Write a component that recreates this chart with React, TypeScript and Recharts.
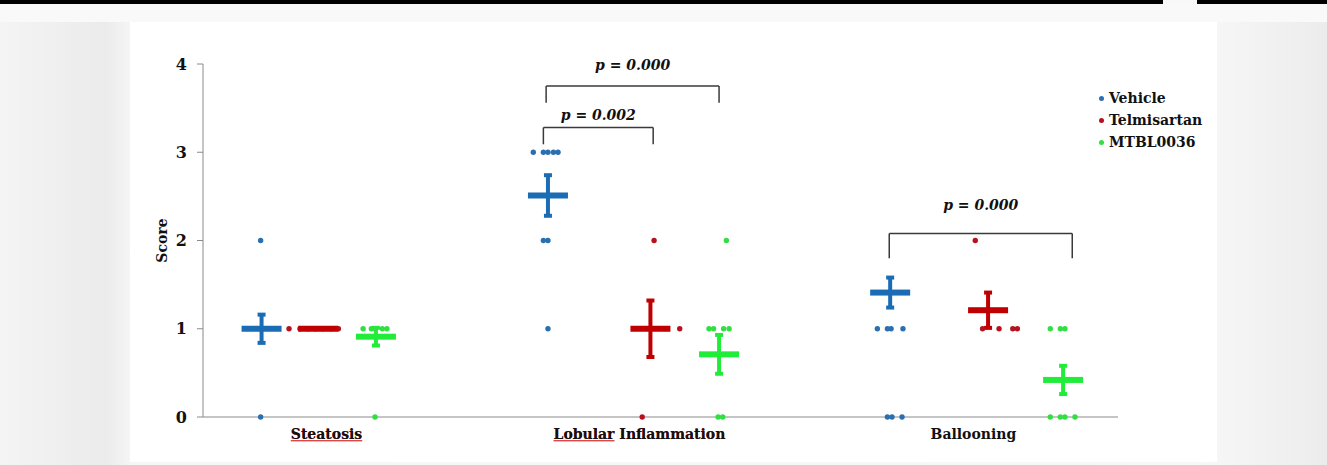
import React from "react";
import {
  ComposedChart,
  Scatter,
  XAxis,
  YAxis,
  ErrorBar,
  ReferenceLine,
  Legend,
} from "recharts";

// x runs 0..100 across the plot, y is the histology score
const categories = ["Steatosis", "Lobular Inflammation", "Ballooning"];
const categoryX = [13.5, 47.7, 84.2];
const yTicks = [0, 1, 2, 3, 4];

const groups = ["Vehicle", "Telmisartan", "MTBL0036"];

// individual animals [x, score]
const vehicleDots = [
  [6.3, 2], [6.3, 1], [6.3, 0],
  [36.1, 3], [37.2, 3], [37.7, 3], [38.3, 3], [38.8, 3], [37.2, 2], [37.7, 2], [37.7, 1],
  [73.7, 1], [74.8, 1], [75.2, 1], [76.5, 1], [74.8, 0], [75.3, 0], [76.4, 0],
];
const telmisartanDots = [
  [9.4, 1], [10.6, 1], [11.5, 1], [12.3, 1], [13.1, 1], [14.0, 1], [14.8, 1],
  [49.3, 2], [48.9, 1], [52.1, 1], [48.0, 0],
  [84.4, 2], [85.2, 1], [87.0, 1], [88.5, 1], [89.0, 1],
];
const mtblDots = [
  [17.5, 1], [18.4, 1], [18.8, 1], [19.6, 1], [20.1, 1], [18.8, 0],
  [57.2, 2], [55.3, 1], [55.8, 1], [56.9, 1], [57.5, 1], [56.3, 0], [56.8, 0],
  [92.6, 1], [93.7, 1], [94.2, 1], [92.6, 0], [93.7, 0], [94.2, 0], [95.3, 0],
];

// group means and standard errors per category
const vehicleMeanX = [6.4, 37.7, 75.1];
const vehicleMean = [1.0, 2.51, 1.41];
const vehicleSe = [0.16, 0.23, 0.17];
const telmisartanMeanX = [12.6, 48.9, 85.8];
const telmisartanMean = [1.0, 1.0, 1.21];
const telmisartanSe = [0, 0.32, 0.2];
const mtblMeanX = [18.9, 56.4, 94.0];
const mtblMean = [0.91, 0.71, 0.42];
const mtblSe = [0.1, 0.22, 0.16];

// significance brackets
const bracketLabels = ["p = 0.002", "p = 0.000", "p = 0.000"];
const bracketX1 = [37.2, 37.5, 75.0];
const bracketX2 = [49.2, 56.4, 95.0];
const bracketTop = [3.28, 3.75, 2.08];
const bracketFoot = [3.09, 3.56, 1.8];

const COLORS = ["#1a6cb4", "#c00000", "#22ec3a"];
const DOT_COLORS = ["#2a70b0", "#b5121e", "#30e040"];
const AXIS = "#8a8a8a";
const FONT = "'DejaVu Serif', serif";

const toDots = (rows: number[][]) => rows.map(([x, y]) => ({ x, y }));
const toMeans = (xs: number[], ms: number[], se: number[]) =>
  xs.map((x, i) => ({ x, y: ms[i], err: se[i] }));

const dotSeries = [toDots(vehicleDots), toDots(telmisartanDots), toDots(mtblDots)];
const meanSeries = [
  toMeans(vehicleMeanX, vehicleMean, vehicleSe),
  toMeans(telmisartanMeanX, telmisartanMean, telmisartanSe),
  toMeans(mtblMeanX, mtblMean, mtblSe),
];

const labelOffsets = [8, 16, 23];

const makeDot = (color: string) => (props: any) =>
  <circle cx={props.cx} cy={props.cy} r={2.7} fill={color} />;

const makeMeanBar = (color: string) => (props: any) =>
  <rect x={props.cx - 20} y={props.cy - 3} width={40} height={6} fill={color} />;

// spell-check style underline under the first word (red copy sits below the black text)
function CategoryTick(props: any) {
  const { x, y, payload } = props;
  const name = categories[categoryX.indexOf(payload.value)] ?? "";
  const [first, ...rest] = name.split(" ");
  const tail = rest.length > 0 ? " " + rest.join(" ") : "";
  const marked = first !== "Ballooning";
  const common = { x, y, dy: 14, textAnchor: "middle" as const, fontSize: 14,
    fontWeight: "bold", fontFamily: FONT };
  return (
    <g>
      {marked && (
        <text {...common} fill="#e04848">
          <tspan style={{ textDecoration: "underline" }}>{first}</tspan>
          <tspan>{tail}</tspan>
        </text>
      )}
      <text {...common} fill="#111">
        <tspan>{first}</tspan>
        <tspan>{tail}</tspan>
      </text>
    </g>
  );
}

function renderLegend(props: any) {
  const items = (props.payload || [])
    .filter((p: any) => groups.includes(p.value))
    .sort((a: any, b: any) => groups.indexOf(a.value) - groups.indexOf(b.value));
  return (
    <div style={{ fontFamily: FONT, fontWeight: "bold", fontSize: 14, color: "#111" }}>
      {items.map((p: any) => (
        <div key={p.value} style={{ display: "flex", alignItems: "center", height: 22 }}>
          <span style={{ width: 5, height: 5, borderRadius: 3, background: p.color, marginRight: 5 }} />
          <span>{p.value}</span>
        </div>
      ))}
    </div>
  );
}

export default function App() {
  return (
    <div style={{ position: "absolute", left: 0, top: 0, width: 1327, height: 465,
      background: "linear-gradient(90deg, #f4f4f4 0%, #ebebeb 8%, #f6f6f6 10%, #f8f8f8 90%, #ececec 100%)",
      overflow: "hidden" }}>
      <div style={{ position: "absolute", left: 0, top: 0, width: 1163, height: 4, background: "#000" }} />
      <div style={{ position: "absolute", left: 1197, top: 0, width: 130, height: 4, background: "#000" }} />
      <div style={{ position: "absolute", left: 0, top: 4, width: 1327, height: 18, background: "#f9f9f9" }} />
      <div style={{ position: "absolute", left: 130, top: 22, width: 1087, height: 440, background: "#fff" }} />
      <div style={{ position: "absolute", left: 0, top: 0 }}>
        <ComposedChart width={1327} height={465}
          margin={{ top: 64, right: 209, left: 133, bottom: 18 }}>
          <XAxis type="number" dataKey="x" domain={[0, 100]} ticks={categoryX}
            tickLine={false} axisLine={{ stroke: AXIS }} height={30}
            tick={<CategoryTick />} interval={0} />
          <YAxis type="number" dataKey="y" domain={[0, 4]} ticks={yTicks} width={70}
            axisLine={{ stroke: AXIS }} tickLine={{ stroke: AXIS }} tickSize={6} tickMargin={10}
            tick={{ fill: "#111", fontSize: 16, fontWeight: "bold", fontFamily: FONT }}
            label={{ value: "Score", angle: -90, position: "center", dx: -6,
              style: { fill: "#111", fontSize: 14, fontWeight: "bold", fontFamily: FONT } }} />
          <Legend layout="vertical" align="center" verticalAlign="middle"
            content={renderLegend}
            wrapperStyle={{ position: "absolute", left: 1099, top: 87, width: 130 }} />

          {bracketLabels.map((label, i) => (
            <ReferenceLine key={"l" + i} stroke="#3a3a3a" strokeWidth={1.5}
              segment={[{ x: bracketX1[i], y: bracketFoot[i] }, { x: bracketX1[i], y: bracketTop[i] }]} />
          ))}
          {bracketLabels.map((label, i) => (
            <ReferenceLine key={"r" + i} stroke="#3a3a3a" strokeWidth={1.5}
              segment={[{ x: bracketX2[i], y: bracketFoot[i] }, { x: bracketX2[i], y: bracketTop[i] }]} />
          ))}
          {bracketLabels.map((label, i) => (
            <ReferenceLine key={"t" + i} stroke="#3a3a3a" strokeWidth={1.5}
              segment={[{ x: bracketX1[i], y: bracketTop[i] }, { x: bracketX2[i], y: bracketTop[i] }]}
              label={{ value: label, position: "top", offset: labelOffsets[i],
                style: { fill: "#111", fontSize: 14, fontWeight: "bold", fontStyle: "italic", fontFamily: FONT } }} />
          ))}

          {groups.map((g, i) => (
            <Scatter key={g} name={g} data={dotSeries[i]} fill={DOT_COLORS[i]}
              shape={makeDot(DOT_COLORS[i])} isAnimationActive={false} />
          ))}
          {groups.map((g, i) => (
            <Scatter key={g + "-mean"} name={g + " mean"} data={meanSeries[i]} fill={COLORS[i]}
              legendType="none" shape={makeMeanBar(COLORS[i])} isAnimationActive={false}>
              <ErrorBar dataKey="err" direction="y" width={4} strokeWidth={4}
                stroke={COLORS[i]} isAnimationActive={false} />
            </Scatter>
          ))}
        </ComposedChart>
      </div>
    </div>
  );
}
